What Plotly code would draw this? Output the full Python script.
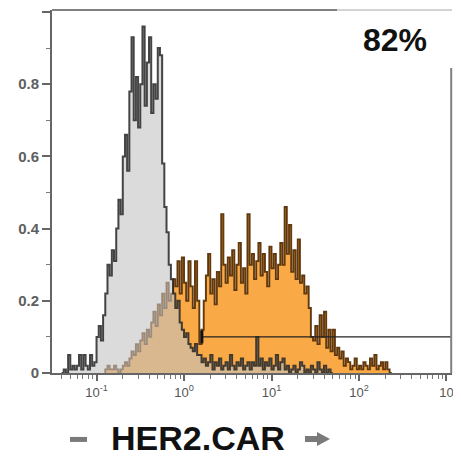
import numpy as np
import plotly.graph_objects as go

# ---- data: histogram bin heights (normalised to mode), log10 bin layout ----
bin_width_log = 0.025
control_start_log = -1.40
control_counts = [
    0.00, 0.01, 0.00, 0.05, 0.01, 0.02, 0.01, 0.02, 0.05, 0.01,
    0.05, 0.02, 0.01, 0.05, 0.02, 0.03, 0.10, 0.13, 0.09, 0.16,
    0.22, 0.30, 0.27, 0.34, 0.31, 0.40, 0.48, 0.44, 0.60, 0.66,
    0.56, 0.78, 0.93, 0.70, 0.82, 0.68, 0.80, 0.96, 0.74, 0.86,
    0.93, 0.72, 0.80, 0.76, 0.90, 0.88, 0.58, 0.46, 0.39, 0.30,
    0.26, 0.22, 0.18, 0.20, 0.14, 0.12, 0.10, 0.11, 0.08, 0.07,
    0.06, 0.08, 0.05, 0.05, 0.03, 0.04, 0.02, 0.03, 0.05, 0.01,
    0.03, 0.02, 0.04, 0.01, 0.02, 0.03, 0.01, 0.05, 0.02, 0.01,
    0.03, 0.02, 0.04, 0.01, 0.02, 0.03, 0.01, 0.03, 0.02, 0.10,
    0.02, 0.04, 0.01, 0.03, 0.02, 0.04, 0.01, 0.02, 0.05, 0.01,
    0.03, 0.04, 0.01, 0.02, 0.00, 0.01, 0.02, 0.00, 0.01, 0.03,
    0.02, 0.00, 0.01, 0.00, 0.02, 0.01, 0.00, 0.03, 0.01, 0.00,
    0.02, 0.00, 0.01, 0.00,
]
car_start_log = -0.90
car_counts = [
    0.01, 0.02, 0.01, 0.01, 0.02, 0.01, 0.00, 0.01, 0.02, 0.03,
    0.02, 0.04, 0.06, 0.05, 0.08, 0.06, 0.09, 0.11, 0.08, 0.12,
    0.10, 0.14, 0.17, 0.13, 0.19, 0.16, 0.22, 0.18, 0.25, 0.20,
    0.22, 0.26, 0.24, 0.31, 0.22, 0.32, 0.25, 0.20, 0.31, 0.24,
    0.18, 0.31, 0.20, 0.08, 0.12, 0.20, 0.27, 0.33, 0.22, 0.26,
    0.19, 0.28, 0.24, 0.44, 0.30, 0.25, 0.32, 0.27, 0.34, 0.23,
    0.30, 0.36, 0.25, 0.29, 0.22, 0.44, 0.30, 0.33, 0.26, 0.31,
    0.36, 0.27, 0.33, 0.28, 0.24, 0.35, 0.29, 0.33, 0.26, 0.30,
    0.36, 0.30, 0.46, 0.33, 0.41, 0.28, 0.34, 0.26, 0.37, 0.25,
    0.27, 0.22, 0.24, 0.18, 0.10, 0.09, 0.13, 0.08, 0.16, 0.10,
    0.17, 0.07, 0.12, 0.06, 0.12, 0.05, 0.07, 0.04, 0.06, 0.02,
    0.04, 0.03, 0.01, 0.02, 0.04, 0.01, 0.02, 0.01, 0.03, 0.02,
    0.01, 0.04, 0.02, 0.05, 0.01, 0.02, 0.03, 0.01, 0.03, 0.01,
    0.00,
]
gate_low = 1.6
gate_y = 0.10
gate_label = "82%"
x_tick_vals = [0.1, 1, 10, 100, 1000]
x_tick_text = ["10<sup>-1</sup>", "10<sup>0</sup>", "10<sup>1</sup>", "10<sup>2</sup>", "10"]
y_tick_vals = [0, 0.2, 0.4, 0.6, 0.8, 1]
y_tick_text = ["<b>0</b>", "<b>0.2</b>", "<b>0.4</b>", "<b>0.6</b>", "<b>0.8</b>", "<b>1</b>"]
axis_title = "HER2.CAR"

x_range_log = [-1.509, 3.063]


def step_xy(start_log, counts):
    edges = 10 ** (start_log + bin_width_log * np.arange(len(counts) + 1))
    xs = [edges[0]] + list(edges[:-1]) + [edges[-1], edges[-1]]
    ys = [0] + list(counts) + [counts[-1], 0]
    return xs, ys


fig = go.Figure()

cx, cy = step_xy(car_start_log, car_counts)
fig.add_trace(go.Scatter(
    x=cx, y=cy, mode="lines", line=dict(shape="hv", color="rgba(88,48,6,0.95)", width=1.9),
    fill="tozeroy", fillcolor="#F9A945", hoverinfo="skip", showlegend=False))

gx, gy = step_xy(control_start_log, control_counts)
fig.add_trace(go.Scatter(
    x=gx, y=gy, mode="lines", line=dict(shape="hv", color="rgba(38,38,38,0.85)", width=2),
    fill="tozeroy", fillcolor="rgba(195,195,195,0.6)", hoverinfo="skip", showlegend=False))

# gate
fig.add_shape(type="line", xref="x", yref="y", x0=gate_low, x1=10 ** x_range_log[1],
              y0=gate_y, y1=gate_y, line=dict(color="#222", width=1.2))
fig.add_shape(type="line", xref="x", yref="y", x0=gate_low, x1=gate_low,
              y0=gate_y - 0.018, y1=gate_y + 0.018, line=dict(color="#111", width=3))

# frame (top and right)
fig.add_shape(type="line", xref="paper", yref="paper", x0=0, x1=0.7125, y0=1, y1=1,
              line=dict(color="#808080", width=2))
fig.add_shape(type="line", xref="paper", yref="paper", x0=0.7125, x1=1, y0=1, y1=1,
              line=dict(color="#c4c4c4", width=1.5))
fig.add_shape(type="line", xref="paper", yref="paper", x0=0.998, x1=0.998, y0=0, y1=0.84,
              line=dict(color="#808080", width=2))

fig.add_annotation(xref="paper", yref="paper", x=0.8575, y=0.917, xanchor="center", yanchor="middle",
                   text="<b>" + gate_label + "</b>",
                   showarrow=False, font=dict(family="Liberation Sans", size=32, color="#111"))

# axis title with gray dash and arrow
fig.add_annotation(xref="paper", yref="paper", x=0.365, y=-0.18, xanchor="center", yanchor="middle",
                   text="<b>" + axis_title + "</b>",
                   showarrow=False, font=dict(family="Liberation Sans", size=34, color="#111"))
fig.add_shape(type="line", xref="paper", yref="paper", x0=0.045, x1=0.0875, y0=-0.183, y1=-0.183,
              line=dict(color="#7a7a7a", width=5))
fig.add_shape(type="line", xref="paper", yref="paper", x0=0.6325, x1=0.665, y0=-0.1818, y1=-0.1818,
              line=dict(color="#7a7a7a", width=6))
fig.add_shape(type="path", xref="paper", yref="paper",
              path="M 0.6625 -0.1625 L 0.6625 -0.2011 L 0.695 -0.1818 Z",
              fillcolor="#7a7a7a", line=dict(width=0))

minor_x = [m * 10.0 ** d for d in range(-2, 4) for m in range(2, 10)]
fig.update_xaxes(type="log", range=x_range_log, tickmode="array", automargin=False,
                 tickvals=x_tick_vals, ticktext=x_tick_text,
                 ticks="outside", ticklen=6, tickwidth=1.5, tickcolor="#666",
                 showline=True, linecolor="#666", linewidth=2, showgrid=False, zeroline=False,
                 tickfont=dict(family="Liberation Sans", size=13, color="#555"),
                 minor=dict(tickmode="array", tickvals=minor_x, ticks="outside", ticklen=4,
                            tickwidth=1.2, tickcolor="#777", showgrid=False))
fig.update_yaxes(range=[0, 1.0055], tickmode="array", tickvals=y_tick_vals, ticktext=y_tick_text,
                 automargin=False,
                 ticks="outside", ticklen=8, tickwidth=1.5, tickcolor="#666",
                 showline=True, linecolor="#666", linewidth=2, showgrid=False, zeroline=False,
                 tickfont=dict(family="Liberation Sans", size=15, color="#606060"),
                 minor=dict(dtick=0.1, ticks="outside", ticklen=4, tickwidth=1.2,
                            tickcolor="#777", showgrid=False))

# the page body adds an 8px offset; size the figure so the plot area lands where the reference has it
fig.update_layout(width=453, height=451, margin=dict(l=44, r=9, t=2, b=86, autoexpand=False),
                  paper_bgcolor="white", plot_bgcolor="white")
fig.write_html("out.html")
